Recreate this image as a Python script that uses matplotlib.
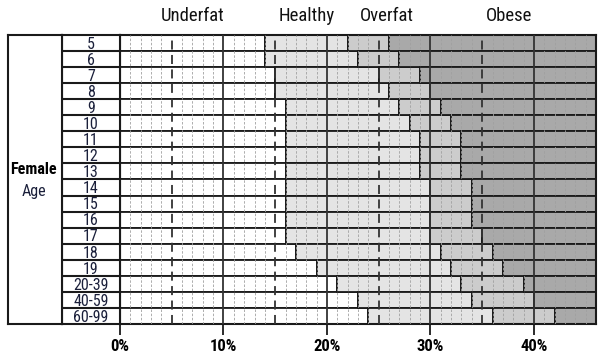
import matplotlib
matplotlib.use("Agg")
import matplotlib.pyplot as plt
import numpy as np

# body fat ranges per age (female), percent
ages = ['5', '6', '7', '8', '9', '10', '11', '12', '13', '14', '15', '16', '17',
        '18', '19', '20-39', '40-59', '60-99']
healthy_start = [14, 14, 15, 15, 16, 16, 16, 16, 16, 16, 16, 16, 16, 17, 19, 21, 23, 24]
overfat_start = [22, 23, 25, 26, 27, 28, 29, 29, 29, 30, 30, 30, 30, 31, 32, 33, 34, 36]
obese_start = [26, 27, 29, 30, 31, 32, 33, 33, 33, 34, 34, 34, 35, 36, 37, 39, 40, 42]
x_max = 46
categories = ['Underfat', 'Healthy', 'Overfat', 'Obese']
cat_pos = [7, 18, 25.8, 37.6]
xticks = [0, 10, 20, 30, 40]

colors = ['white', '#e4e4e4', '#cccccc', '#a9a9a9']
fam = ['Roboto Condensed', 'Liberation Sans Narrow', 'Roboto', 'DejaVu Sans']
plt.rcParams['font.family'] = fam

W, H = 601, 356
fig = plt.figure(figsize=(W / 100, H / 100), dpi=100)
top_px, bot_px = 35, 324
b = 1 - bot_px / H
h = (bot_px - top_px) / H
ax = fig.add_axes([120 / W, b, (596 - 120) / W, h])

n = len(ages)
y = np.arange(n) + 0.5
hs = np.array(healthy_start)
ov = np.array(overfat_start)
ob = np.array(obese_start)
lefts = [np.zeros(n), hs, ov, ob]
rights = [hs, ov, ob, np.full(n, x_max)]
for l, r, c in zip(lefts, rights, colors):
    ax.barh(y, r - l, left=l, height=1, color=c, edgecolor='#1a1a1a', linewidth=1.3, zorder=2)

# grid: solid every 10, dark dashed at 5/15/25/35, light dashed every 1
for v in range(1, x_max):
    if v % 10 == 0:
        ax.axvline(v, color='#333333', lw=1.3, zorder=3)
    elif v % 10 == 5 and v < 40:
        ax.axvline(v, color='#333333', lw=1.3, ls=(0, (5, 3)), zorder=3)
    else:
        ax.axvline(v, color='#a0a0a0', lw=0.6, ls=(0, (3, 2)), zorder=3)

ax.set_xlim(0, x_max)
ax.set_ylim(n, 0)
ax.set_yticks([])
ax.set_xticks(xticks)
ax.set_xticklabels([f'{t}%' for t in xticks], fontsize=12, fontweight='bold', family=fam)
ax.tick_params(axis='x', length=8, width=1.3, color='#1a1a1a', pad=3)
for s in ax.spines.values():
    s.set_linewidth(1.5)
    s.set_color('#1a1a1a')

for name, p in zip(categories, cat_pos):
    ax.text(p, -0.88, name, ha='center', va='baseline', fontsize=13.5, family=fam, color='#111111')

# age column
ax_age = fig.add_axes([62 / W, b, 58 / W, h])
ax_age.set_xlim(0, 1)
ax_age.set_ylim(n, 0)
ax_age.set_xticks([])
ax_age.set_yticks([])
ax_age.hlines(np.arange(1, n), 0, 1, color='#1a1a1a', lw=1.5)
for yi, a in zip(y, ages):
    ax_age.text(0.5, yi + 0.08, a, ha='center', va='center', fontsize=11.5, family=fam, color='#1a1f3a')
for s in ax_age.spines.values():
    s.set_linewidth(1.5)
    s.set_color('#1a1a1a')

# outer label column
ax_lab = fig.add_axes([8 / W, b, 54 / W, h])
ax_lab.set_xticks([])
ax_lab.set_yticks([])
for s in ax_lab.spines.values():
    s.set_linewidth(1.5)
    s.set_color('#1a1a1a')
ax_lab.text(0.48, 0.535, 'Female', ha='center', va='center', fontsize=11.5, fontweight='bold', family=fam,
            transform=ax_lab.transAxes)
ax_lab.text(0.48, 0.46, 'Age', ha='center', va='center', fontsize=11.5, family=fam, color='#1a1f3a',
            transform=ax_lab.transAxes)

fig.savefig('out.png', dpi=100)
